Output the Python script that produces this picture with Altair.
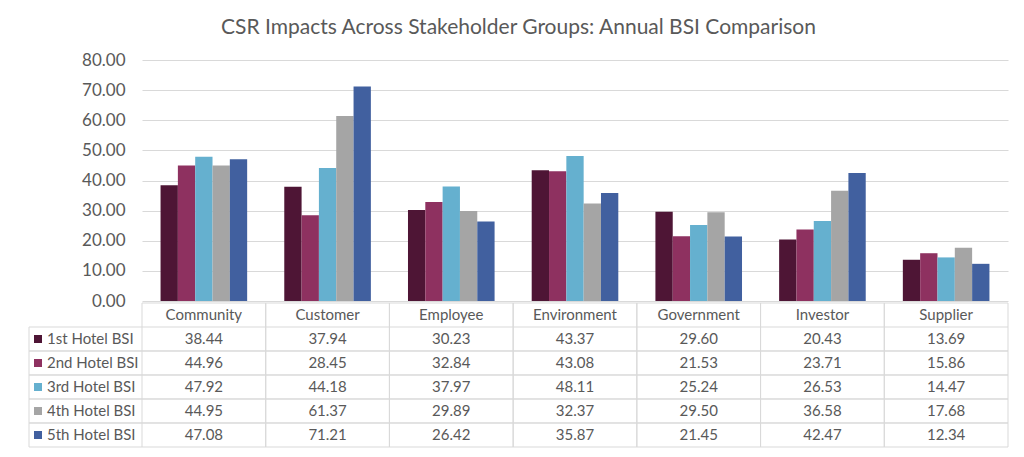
import altair as alt
import pandas as pd

categories = ["Community", "Customer", "Employee", "Environment", "Government", "Investor", "Supplier"]
series = ["1st Hotel BSI", "2nd Hotel BSI", "3rd Hotel BSI", "4th Hotel BSI", "5th Hotel BSI"]
hotel1 = [38.44, 37.94, 30.23, 43.37, 29.60, 20.43, 13.69]
hotel2 = [44.96, 28.45, 32.84, 43.08, 21.53, 23.71, 15.86]
hotel3 = [47.92, 44.18, 37.97, 48.11, 25.24, 26.53, 14.47]
hotel4 = [44.95, 61.37, 29.89, 32.37, 29.50, 36.58, 17.68]
hotel5 = [47.08, 71.21, 26.42, 35.87, 21.45, 42.47, 12.34]
y_ticks = [0, 10, 20, 30, 40, 50, 60, 70, 80]
colors = ["#4E1535", "#8E3160", "#65B0CF", "#A5A5A5", "#41609F"]

FONT = "Lato"
TEXT = "#595959"
GRID = "#D9D9D9"

rows = []
for s, vals in zip(series, [hotel1, hotel2, hotel3, hotel4, hotel5]):
    for c, v in zip(categories, vals):
        rows.append({"series": s, "category": c, "value": v, "label": f"{v:.2f}"})
df = pd.DataFrame(rows)
header_df = pd.DataFrame({"category": categories, "series": ["Header"] * len(categories), "label": categories})
cells = pd.concat([header_df, df[["category", "series", "label"]]], ignore_index=True)
sdf = pd.DataFrame({"series": series})
cdf = pd.DataFrame({"category": categories})

color_scale = alt.Scale(domain=series, range=colors)

# ---------- bar chart ----------
bars = alt.Chart(df).mark_bar().encode(
    x=alt.X("category:N", sort=categories,
            scale=alt.Scale(domain=categories, paddingInner=0.3, paddingOuter=0.15),
            axis=None),
    xOffset=alt.XOffset("series:N", sort=series,
                        scale=alt.Scale(domain=series, paddingInner=0, paddingOuter=0)),
    y=alt.Y("value:Q", scale=alt.Scale(domain=[0, 80], nice=False),
            axis=alt.Axis(values=y_ticks, format=".2f", title=None, domain=False, ticks=False,
                          labelFontSize=17, labelColor=TEXT, labelPadding=17, labelFont=FONT,
                          gridColor=GRID, gridWidth=1)),
    color=alt.Color("series:N", scale=color_scale, legend=None),
).properties(width=866, height=241)

# ---------- data table ----------
x_scale = alt.Scale(domain=categories, paddingInner=0, paddingOuter=0)
y_scale = alt.Scale(domain=["Header"] + series, paddingInner=0, paddingOuter=0)

def xenc(bp=0.5):
    return alt.X("category:N", scale=x_scale, axis=None, bandPosition=bp)

def yenc(bp=0.5):
    return alt.Y("series:N", scale=y_scale, axis=None, bandPosition=bp)

vlines0 = alt.Chart(cdf).mark_rule(color=GRID, strokeWidth=1).encode(x=xenc(0))
vlines1 = alt.Chart(cdf).mark_rule(color=GRID, strokeWidth=1).encode(x=xenc(1))
hl0 = alt.Chart(sdf).mark_rule(color=GRID, strokeWidth=1).encode(
    y=yenc(0), x=alt.value(-113), x2=alt.value(866))
hl1 = alt.Chart(sdf).mark_rule(color=GRID, strokeWidth=1).encode(
    y=yenc(1), x=alt.value(-113), x2=alt.value(866))
head_top = alt.Chart(pd.DataFrame({"series": ["Header"]})).mark_rule(color=GRID, strokeWidth=1).encode(
    y=yenc(0), x=alt.value(0), x2=alt.value(866))
left_border = alt.Chart(pd.DataFrame({"series": [series[0]]})).mark_rule(color=GRID, strokeWidth=1).encode(
    x=alt.value(-113), y=alt.value(24), y2=alt.value(144))

cell_text = alt.Chart(cells).mark_text(fontSize=15, color=TEXT, font=FONT).encode(
    x=xenc(), y=yenc(), text="label:N")
row_labels = alt.Chart(sdf).mark_text(fontSize=15, color=TEXT, font=FONT, align="left").encode(
    x=alt.value(-95), y=yenc(), text="series:N")
swatches = alt.Chart(sdf).mark_square(size=64, opacity=1).encode(
    x=alt.value(-104), y=yenc(), color=alt.Color("series:N", scale=color_scale, legend=None))

table = alt.layer(vlines0, vlines1, hl0, hl1, head_top, left_border,
                  cell_text, row_labels, swatches).properties(width=866, height=144)

chart = alt.vconcat(bars, table, spacing=2, bounds="flush").resolve_scale(
    x="independent", y="independent"
).properties(
    title=alt.Title("CSR Impacts Across Stakeholder Groups: Annual BSI Comparison",
                    fontSize=21, color=TEXT, font=FONT, fontWeight="normal", anchor="middle", offset=13),
    padding={"left": 20, "top": 9, "right": 5, "bottom": 5},
).configure(font=FONT).configure_view(stroke=None)

chart.save("out.html", embed_options={"renderer": "svg", "actions": False})
